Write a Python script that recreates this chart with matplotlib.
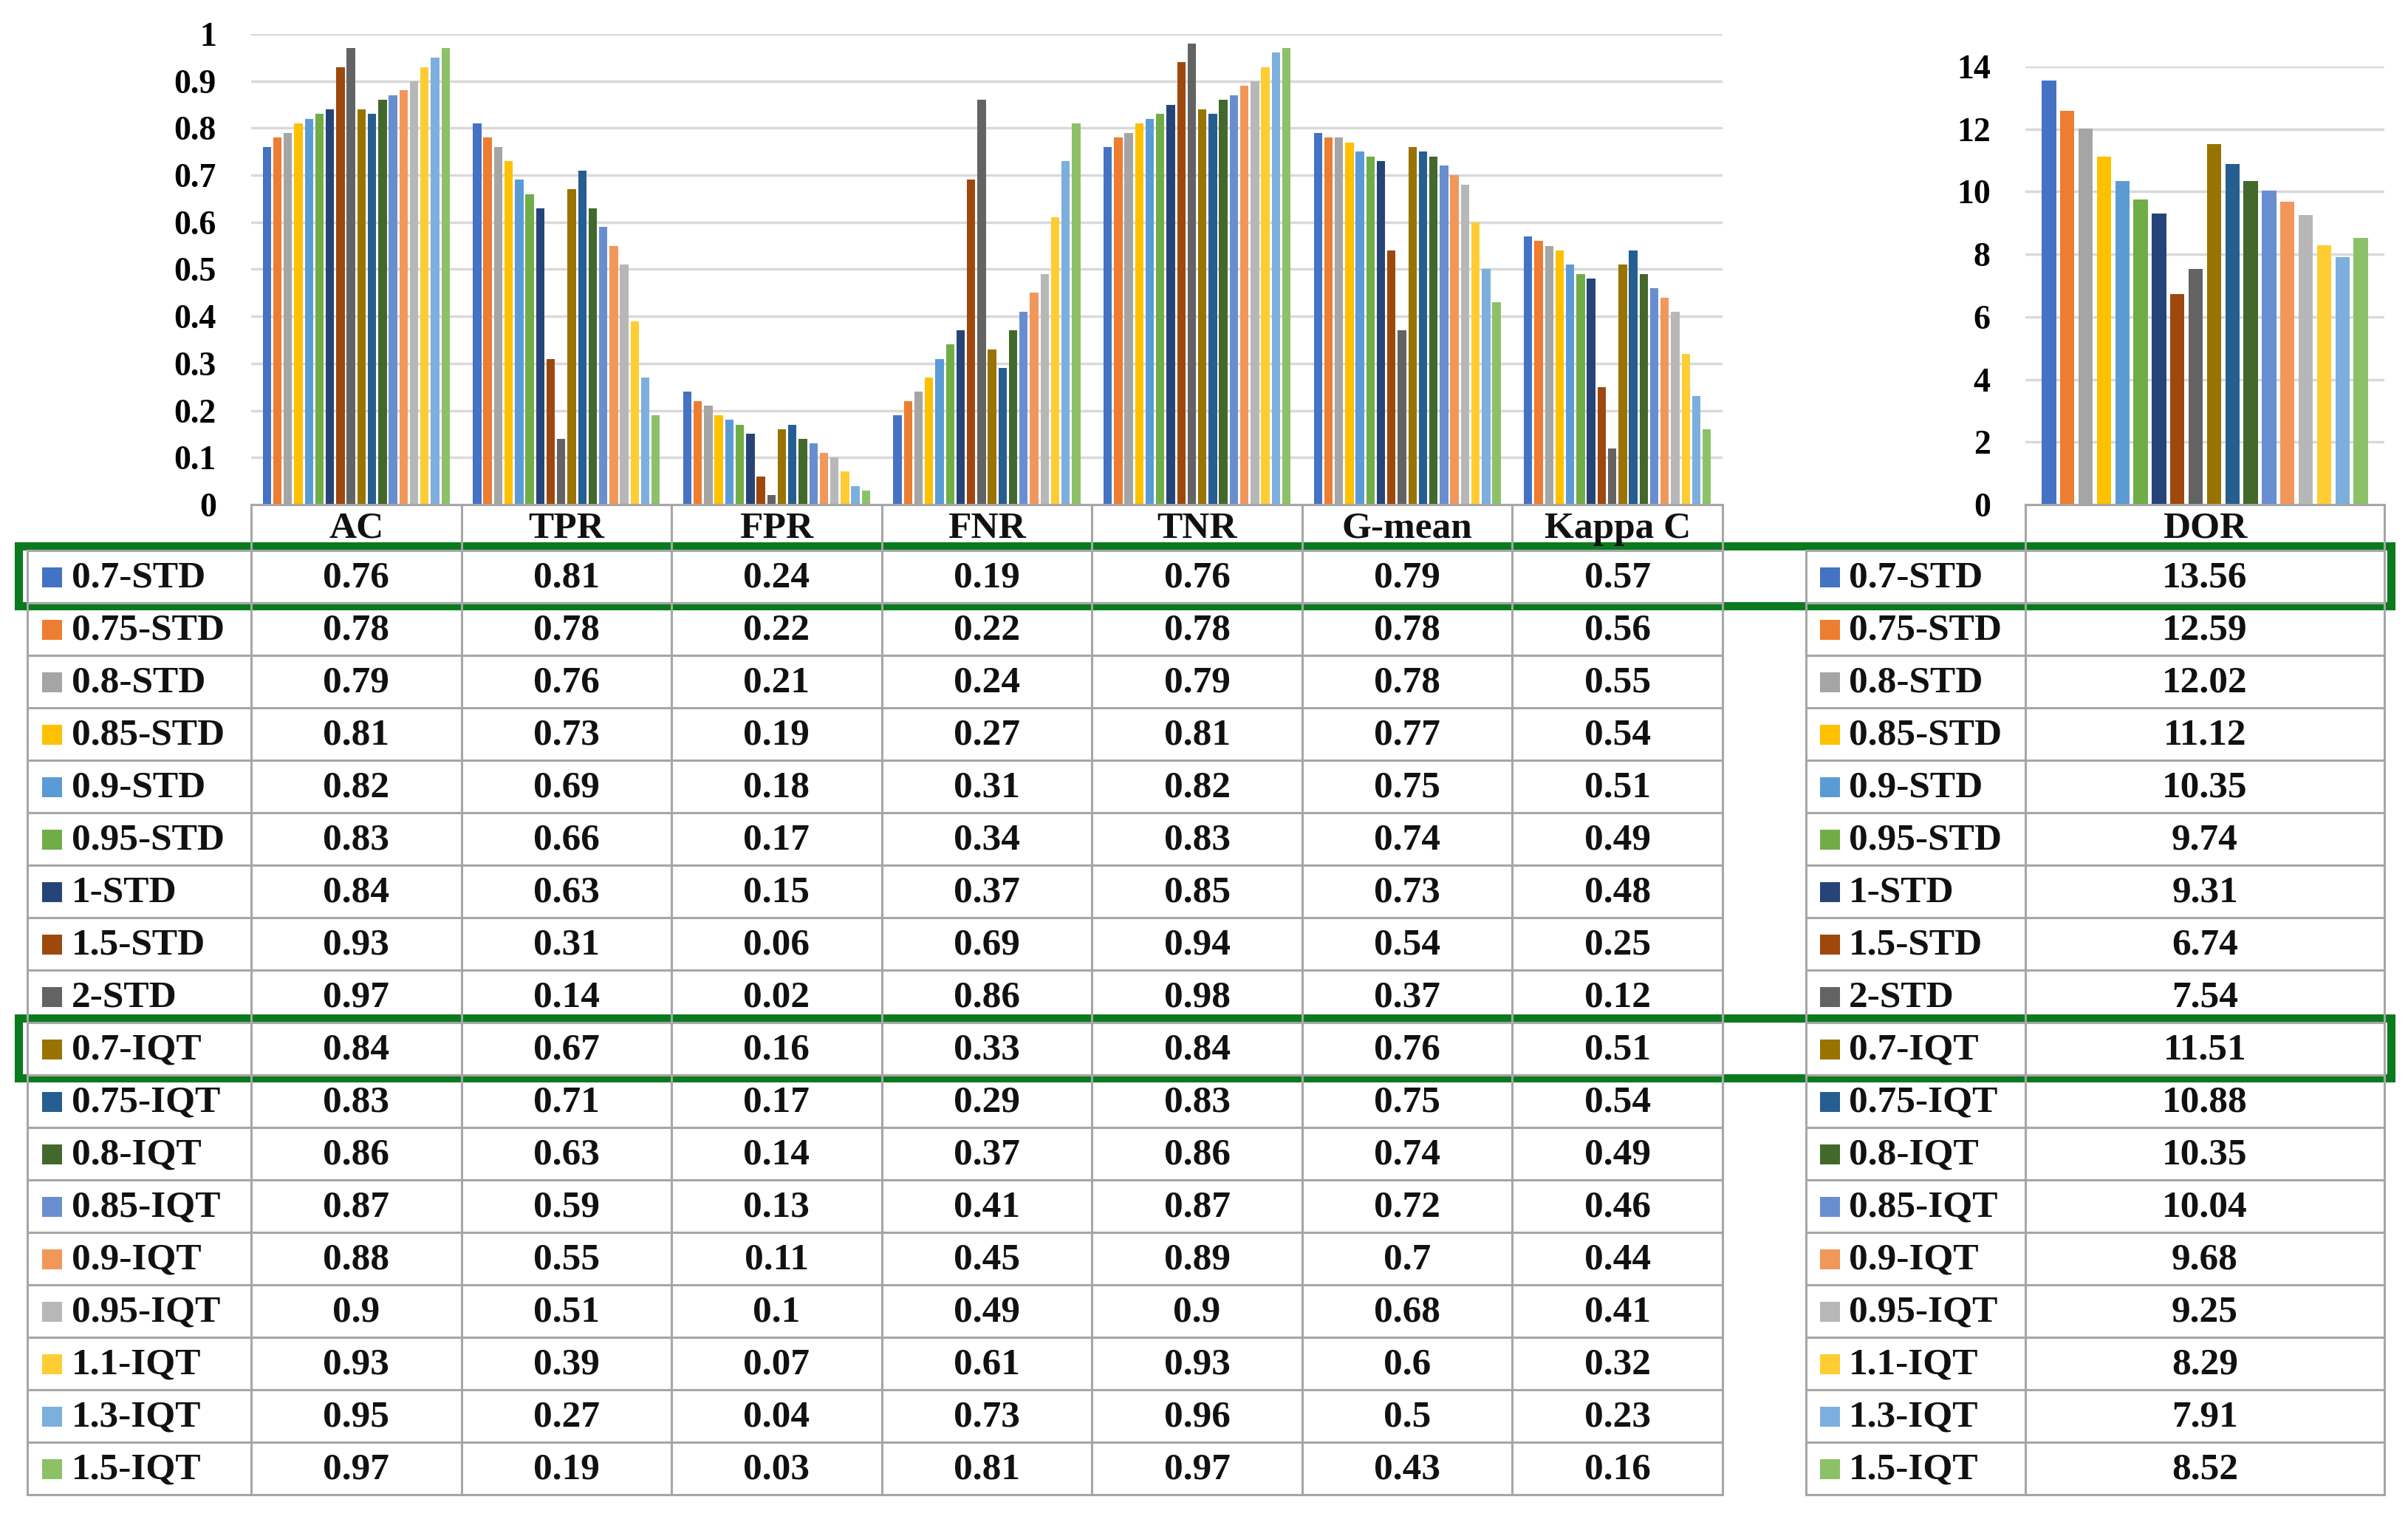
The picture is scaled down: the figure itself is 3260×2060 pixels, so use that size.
import matplotlib.pyplot as plt
import numpy as np
from matplotlib.patches import Rectangle

# data
labels = ['0.7-STD', '0.75-STD', '0.8-STD', '0.85-STD', '0.9-STD', '0.95-STD',
          '1-STD', '1.5-STD', '2-STD', '0.7-IQT', '0.75-IQT', '0.8-IQT',
          '0.85-IQT', '0.9-IQT', '0.95-IQT', '1.1-IQT', '1.3-IQT', '1.5-IQT']
metrics = ['AC', 'TPR', 'FPR', 'FNR', 'TNR', 'G-mean', 'Kappa C']

AC = [0.76, 0.78, 0.79, 0.81, 0.82, 0.83, 0.84, 0.93, 0.97, 0.84, 0.83, 0.86, 0.87, 0.88, 0.9, 0.93, 0.95, 0.97]
TPR = [0.81, 0.78, 0.76, 0.73, 0.69, 0.66, 0.63, 0.31, 0.14, 0.67, 0.71, 0.63, 0.59, 0.55, 0.51, 0.39, 0.27, 0.19]
FPR = [0.24, 0.22, 0.21, 0.19, 0.18, 0.17, 0.15, 0.06, 0.02, 0.16, 0.17, 0.14, 0.13, 0.11, 0.1, 0.07, 0.04, 0.03]
FNR = [0.19, 0.22, 0.24, 0.27, 0.31, 0.34, 0.37, 0.69, 0.86, 0.33, 0.29, 0.37, 0.41, 0.45, 0.49, 0.61, 0.73, 0.81]
TNR = [0.76, 0.78, 0.79, 0.81, 0.82, 0.83, 0.85, 0.94, 0.98, 0.84, 0.83, 0.86, 0.87, 0.89, 0.9, 0.93, 0.96, 0.97]
GMEAN = [0.79, 0.78, 0.78, 0.77, 0.75, 0.74, 0.73, 0.54, 0.37, 0.76, 0.75, 0.74, 0.72, 0.7, 0.68, 0.6, 0.5, 0.43]
KAPPA = [0.57, 0.56, 0.55, 0.54, 0.51, 0.49, 0.48, 0.25, 0.12, 0.51, 0.54, 0.49, 0.46, 0.44, 0.41, 0.32, 0.23, 0.16]
DOR = [13.56, 12.59, 12.02, 11.12, 10.35, 9.74, 9.31, 6.74, 7.54, 11.51, 10.88, 10.35, 10.04, 9.68, 9.25, 8.29, 7.91, 8.52]

colors = ['#4472C4', '#ED7D31', '#A5A5A5', '#FFC000', '#5B9BD5', '#70AD47',
          '#264478', '#9E480E', '#636363', '#997300', '#255E91', '#43682B',
          '#698ED0', '#F1975A', '#B7B7B7', '#FFCD33', '#7CAFDD', '#8CC168']

table = np.array([AC, TPR, FPR, FNR, TNR, GMEAN, KAPPA]).T

plt.rcParams['font.family'] = 'Liberation Serif'
plt.rcParams['font.weight'] = 'bold'

W, H = 3260, 2060
fig = plt.figure(figsize=(W / 100, H / 100), dpi=100)


def frac(x0, y0, x1, y1):
    return [x0 / W, 1 - y1 / H, (x1 - x0) / W, (y1 - y0) / H]


# table geometry in pixels
xl0, xl1, xl2 = 37, 340, 2332
colw = (xl2 - xl1) / 7
xr0, xr1, xr2 = 2445, 2742, 3228
yh, yr0, rowh = 683, 745, 71.0
nrow = len(labels)

n = len(labels)
grp = 0.9
slot = grp / n
offs = -grp / 2 + slot / 2 + slot * np.arange(n)

# left bar chart
ax = fig.add_axes(frac(xl1, 46, xl2, yh))
for i in range(n):
    ax.bar(np.arange(7) + offs[i], table[i], width=slot * 0.8, color=colors[i], zorder=3)
ax.set_xlim(-0.5, 6.5)
ax.set_ylim(0, 1)
ax.set_yticks(np.arange(0, 1.01, 0.1))
ax.set_yticklabels(['0', '0.1', '0.2', '0.3', '0.4', '0.5', '0.6', '0.7', '0.8', '0.9', '1'])
ax.set_xticks([])
ax.grid(axis='y', color='#D9D9D9', linewidth=2.5, zorder=0)
ax.tick_params(axis='y', length=0, pad=34, labelsize=33)
for s in ax.spines.values():
    s.set_visible(False)

# DOR bar chart
ax2 = fig.add_axes(frac(xr1, 90, xr2, yh))
grp2 = 0.92
slot2 = grp2 / n
offs2 = -grp2 / 2 + slot2 / 2 + slot2 * np.arange(n)
for i in range(n):
    ax2.bar(offs2[i], DOR[i], width=slot2 * 0.78, color=colors[i], zorder=3)
ax2.set_xlim(-0.5, 0.5)
ax2.set_ylim(0, 14)
ax2.set_yticks(np.arange(0, 15, 2))
ax2.set_xticks([])
ax2.grid(axis='y', color='#D9D9D9', linewidth=2.5, zorder=0)
ax2.tick_params(axis='y', length=0, pad=34, labelsize=33)
for s in ax2.spines.values():
    s.set_visible(False)

# table overlay in pixel coordinates
t = fig.add_axes([0, 0, 1, 1])
t.set_xlim(0, W)
t.set_ylim(H, 0)
t.axis('off')
t.patch.set_alpha(0)

lc = '#A6A6A6'
lw = 2.2
ybot = yr0 + nrow * rowh

# horizontal lines
t.plot([xl1, xl2], [yh, yh], color=lc, lw=lw)
t.plot([xr1, xr2], [yh, yh], color=lc, lw=lw)
for r in range(nrow + 1):
    y = yr0 + r * rowh
    t.plot([xl0, xl2], [y, y], color=lc, lw=lw)
    t.plot([xr0, xr2], [y, y], color=lc, lw=lw)

# vertical lines
t.plot([xl0, xl0], [yr0, ybot], color=lc, lw=lw)
for c in range(8):
    x = xl1 + c * colw
    t.plot([x, x], [yh, ybot], color=lc, lw=lw)
t.plot([xr0, xr0], [yr0, ybot], color=lc, lw=lw)
t.plot([xr1, xr1], [yh, ybot], color=lc, lw=lw)
t.plot([xr2, xr2], [yh, ybot], color=lc, lw=lw)

fs = 37
tc = '#111111'
# headers
for c, m in enumerate(metrics):
    t.text(xl1 + (c + 0.5) * colw, (yh + yr0) / 2 + 2, m, ha='center', va='center',
           fontsize=fs, fontweight='bold', color=tc)
t.text((xr1 + xr2) / 2, (yh + yr0) / 2 + 2, 'DOR', ha='center', va='center',
       fontsize=fs, fontweight='bold', color=tc)

# rows
for r in range(nrow):
    yc = yr0 + (r + 0.5) * rowh
    t.add_patch(Rectangle((57, yc - 13), 27, 27, color=colors[r], lw=0))
    t.text(97, yc + 2, labels[r], ha='left', va='center', fontsize=fs, fontweight='bold', color=tc)
    for c in range(7):
        t.text(xl1 + (c + 0.5) * colw, yc + 2, '%g' % table[r, c], ha='center', va='center',
               fontsize=fs, fontweight='bold', color=tc)
    t.add_patch(Rectangle((2464, yc - 13), 27, 27, color=colors[r], lw=0))
    t.text(2503, yc + 2, labels[r], ha='left', va='center', fontsize=fs, fontweight='bold', color=tc)
    t.text((xr1 + xr2) / 2, yc + 2, '%.2f' % DOR[r], ha='center', va='center',
           fontsize=fs, fontweight='bold', color=tc)

# green highlight boxes
for r in [0, 9]:
    y0 = yr0 + r * rowh - 6
    t.add_patch(Rectangle((25, y0), 3237 - 25, rowh + 10, fill=False,
                          edgecolor='#0B7A1F', lw=8))

fig.savefig('out.png', dpi=100, facecolor='white')
